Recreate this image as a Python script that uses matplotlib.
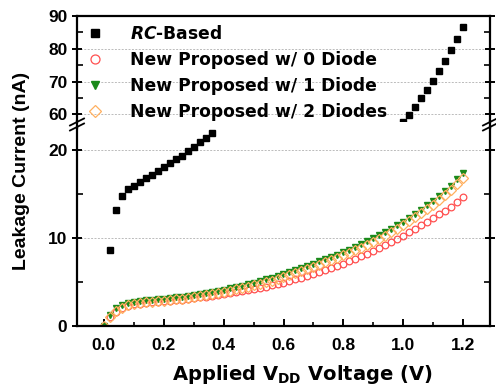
import numpy as np
import matplotlib.pyplot as plt
from matplotlib.ticker import MultipleLocator

plt.rcParams['font.family'] = ['Liberation Sans', 'DejaVu Sans']
plt.rcParams['font.weight'] = 'bold'
plt.rcParams['mathtext.fontset'] = 'custom'
plt.rcParams['mathtext.rm'] = 'DejaVu Sans:bold'
plt.rcParams['mathtext.bf'] = 'DejaVu Sans:bold'
plt.rcParams['mathtext.it'] = 'DejaVu Sans:bold:italic'

# RC-based: visible points only (the rest falls in the axis break)
rc_v = [0.02, 0.04, 0.06, 0.08, 0.10, 0.12, 0.14, 0.16, 0.18, 0.20, 0.22, 0.24,
        0.26, 0.28, 0.30, 0.32, 0.34, 0.36,
        1.00, 1.02, 1.04, 1.06, 1.08, 1.10, 1.12, 1.14, 1.16, 1.18, 1.20]
rc_i = [8.7, 13.2, 14.8, 15.6, 16.0, 16.4, 16.8, 17.2, 17.7, 18.1, 18.6, 19.0,
        19.4, 19.9, 20.4, 20.9, 21.4, 22.0,
        57.6, 59.9, 62.3, 64.9, 67.4, 70.2, 73.1, 76.3, 79.5, 83.1, 86.7]

v = np.round(np.arange(61) * 0.02, 2)
d0 = [0.0, 1.0, 1.65, 2.05, 2.3, 2.45, 2.55, 2.62, 2.69, 2.75, 2.81, 2.87, 2.94,
      3.01, 3.09, 3.17, 3.26, 3.35, 3.44, 3.53, 3.63, 3.73, 3.84, 3.95, 4.07, 4.2,
      4.33, 4.47, 4.62, 4.78, 4.95, 5.12, 5.3, 5.5, 5.7, 5.91, 6.13, 6.36, 6.6,
      6.84, 7.1, 7.37, 7.65, 7.95, 8.25, 8.57, 8.9, 9.25, 9.6, 9.95, 10.3, 10.65,
      11.05, 11.45, 11.85, 12.25, 12.7, 13.15, 13.6, 14.1, 14.65]
d1 = [0.05, 1.3, 2.0, 2.4, 2.6, 2.75, 2.85, 2.92, 3.0, 3.05, 3.12, 3.2, 3.27,
      3.35, 3.45, 3.55, 3.65, 3.78, 3.9, 4.02, 4.15, 4.3, 4.45, 4.6, 4.75, 4.92,
      5.1, 5.3, 5.5, 5.7, 5.92, 6.15, 6.38, 6.6, 6.85, 7.1, 7.35, 7.6, 7.85, 8.1,
      8.4, 8.7, 9.0, 9.3, 9.65, 10.0, 10.35, 10.7, 11.1, 11.5, 11.9, 12.35, 12.8,
      13.25, 13.75, 14.25, 14.8, 15.4, 16.0, 16.7, 17.4]
d2 = [0.0, 1.0, 1.7, 2.1, 2.35, 2.5, 2.6, 2.68, 2.75, 2.8, 2.87, 2.95, 3.02,
      3.1, 3.2, 3.3, 3.4, 3.52, 3.64, 3.76, 3.89, 4.03, 4.17, 4.32, 4.47, 4.63,
      4.8, 4.98, 5.17, 5.37, 5.58, 5.8, 6.02, 6.25, 6.5, 6.75, 7.0, 7.25, 7.5,
      7.75, 8.03, 8.33, 8.63, 8.93, 9.27, 9.6, 9.95, 10.3, 10.7, 11.1, 11.5,
      11.93, 12.37, 12.83, 13.3, 13.8, 14.35, 14.93, 15.53, 16.2, 16.9]

W, H = 496, 386
fig = plt.figure(figsize=(W / 100, H / 100), dpi=100)
L, R = 77 / W, 490 / W
top_ax = fig.add_axes([L, 1 - 121 / H, R - L, (121 - 16) / H])
bot_ax = fig.add_axes([L, 1 - 326 / H, R - L, (326 - 128) / H])

for ax in (top_ax, bot_ax):
    ax.plot(rc_v, rc_i, 's', color='black', ms=4.2, label=r'$\mathit{RC}$-Based')
    ax.plot(v, d0, 'o', mfc='none', mec='#ff5050', mew=0.9, ms=4.8, label='New Proposed w/ 0 Diode')
    ax.plot(v, d1, 'v', color='#1a8a1a', ms=4.3, label='New Proposed w/ 1 Diode')
    ax.plot(v, d2, 'D', mfc='none', mec='#ffb060', mew=0.9, ms=4.8, label='New Proposed w/ 2 Diodes')
    ax.set_xlim(-0.09, 1.29)
    ax.xaxis.set_major_locator(MultipleLocator(0.2))
    ax.xaxis.set_minor_locator(MultipleLocator(0.1))
    for s in ax.spines.values():
        s.set_linewidth(1.6)
    ax.tick_params(axis='y', which='major', direction='inout', length=7, width=1.4,
                   right=True, labelsize=12.5)
    ax.tick_params(axis='y', which='minor', direction='in', length=4, width=1.2, right=True)
    ax.tick_params(axis='x', which='major', direction='in', length=5, width=1.4,
                   labelsize=12.5, pad=9)
    ax.tick_params(axis='x', which='minor', direction='in', length=3, width=1.2)
    ax.grid(axis='y', which='major', linestyle=(0, (2, 1.5)), color='#bbbbbb', lw=0.7)
    ax.set_axisbelow(True)

top_ax.set_ylim(58.0, 90)
top_ax.yaxis.set_major_locator(MultipleLocator(10))
top_ax.yaxis.set_minor_locator(MultipleLocator(5))
top_ax.spines['bottom'].set_visible(False)
top_ax.tick_params(axis='x', which='both', bottom=False, labelbottom=False)
top_ax.set_yticks([60, 70, 80, 90])

bot_ax.set_ylim(0, 22.55)
bot_ax.set_yticks([0, 10, 20])
bot_ax.yaxis.set_minor_locator(MultipleLocator(5))
bot_ax.spines['top'].set_visible(False)

# axis break
for xs in (L, R):
    fig.add_artist(plt.Line2D([xs, xs], [1 - 121 / H, 1 - 128 / H], color='black', lw=1.6))
    for dy in (-2.5, 2.5):
        yc = 124.5 + dy
        fig.add_artist(plt.Line2D([xs - 7 / W, xs + 7 / W],
                                  [1 - (yc + 3.5) / H, 1 - (yc - 3.5) / H],
                                  color='black', lw=1.3))

leg = top_ax.legend(loc='upper left', frameon=False, handlelength=1.2,
                    handletextpad=1.45, labelspacing=0.47, borderaxespad=0.2,
                    markerscale=1.35, bbox_to_anchor=(-0.006, 1.01),
                    prop={'family': 'DejaVu Sans', 'weight': 'bold', 'size': 12.3})

fig.text(22 / W, 1 - 171 / H, 'Leakage Current (nA)', rotation=90, ha='center',
         va='center', family='Liberation Sans', weight='bold', size=14)
fig.text(302 / W, 1 - 374 / H, r'Applied V$_{\mathbf{DD}}$ Voltage (V)', ha='center',
         va='center', family='DejaVu Sans', weight='bold', size=14)

fig.savefig('out.png', dpi=100)
